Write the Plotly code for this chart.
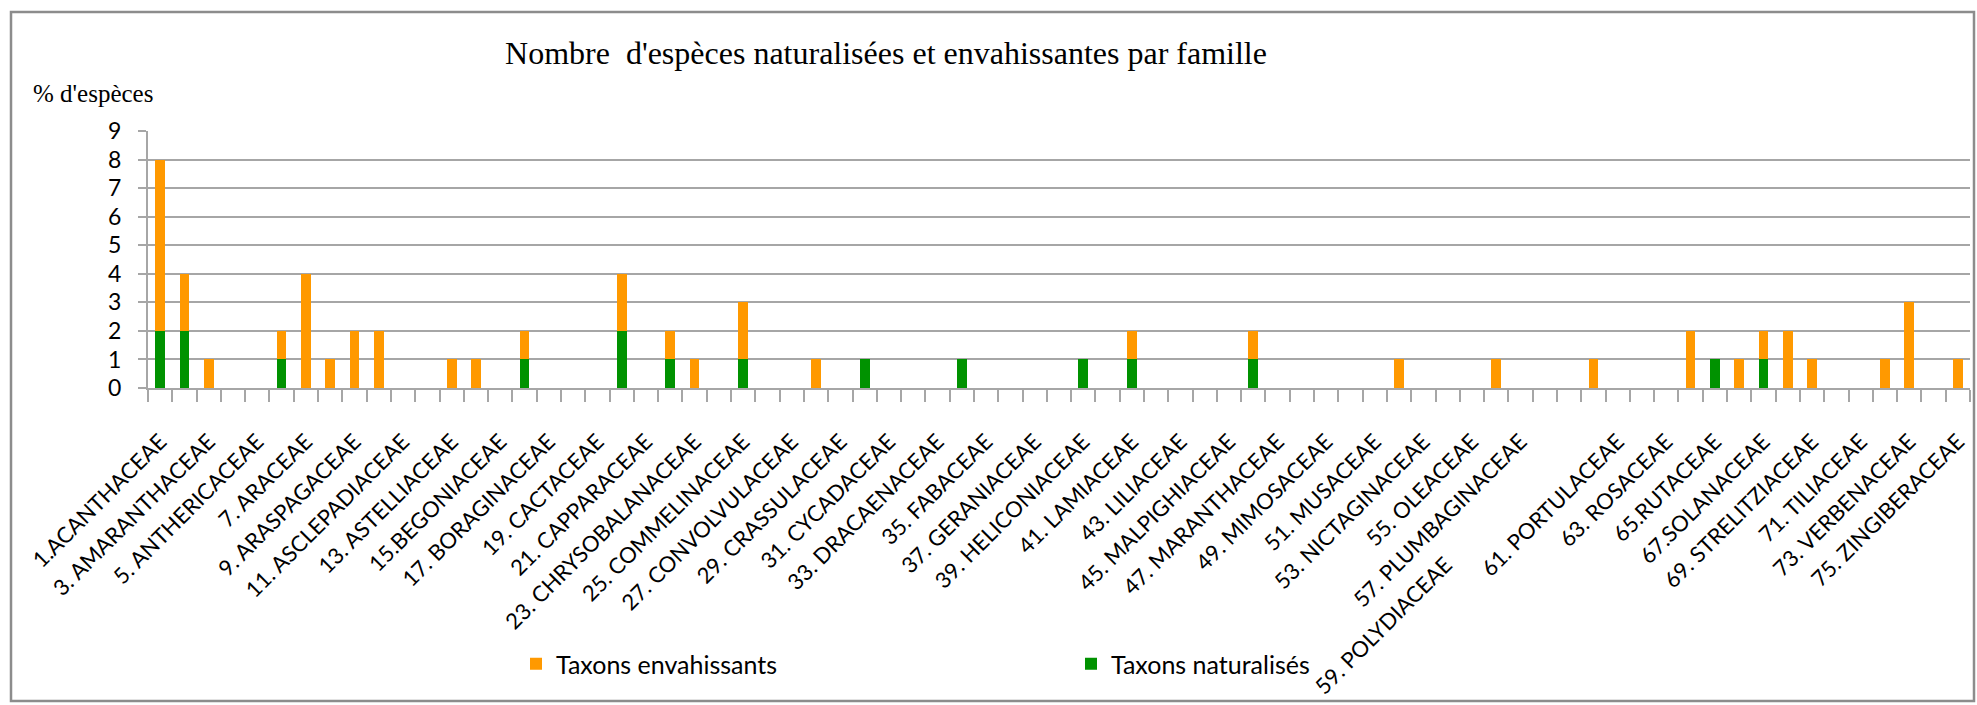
import plotly.graph_objects as go

# ---------------- data ----------------
family_numbers = list(range(1, 76))

labeled_families = [
    "1.ACANTHACEAE", "3. AMARANTHACEAE", "5. ANTHERICACEAE", "7. ARACEAE",
    "9. ARASPAGACEAE", "11. ASCLEPADIACEAE", "13. ASTELLIACEAE", "15.BEGONIACEAE",
    "17. BORAGINACEAE", "19. CACTACEAE", "21. CAPPARACEAE", "23. CHRYSOBALANACEAE",
    "25. COMMELINACEAE", "27. CONVOLVULACEAE", "29. CRASSULACEAE", "31. CYCADACEAE",
    "33. DRACAENACEAE", "35. FABACEAE", "37. GERANIACEAE", "39. HELICONIACEAE",
    "41. LAMIACEAE", "43. LILIACEAE", "45. MALPIGHIACEAE", "47. MARANTHACEAE",
    "49. MIMOSACEAE", "51. MUSACEAE", "53. NICTAGINACEAE", "55. OLEACEAE",
    "57. PLUMBAGINACEAE", "59. POLYDIACEAE", "61. PORTULACEAE", "63. ROSACEAE",
    "65.RUTACEAE", "67.SOLANACEAE", "69. STRELITZIACEAE", "71. TILIACEAE",
    "73. VERBENACEAE", "75. ZINGIBERACEAE",
]
labeled_numbers = [1, 3, 5, 7, 9, 11, 13, 15, 17, 19, 21, 23, 25, 27, 29, 31, 33, 35, 37,
                   39, 41, 43, 45, 47, 49, 51, 53, 55, 57, 59, 61, 63, 65, 67, 69, 71, 73, 75]

# Taxons naturalisés (green, bottom of stack), families 1..75
naturalises = [2, 2, 0, 0, 0, 1, 0, 0, 0, 0,
               0, 0, 0, 0, 0, 1, 0, 0, 0, 2,
               0, 1, 0, 0, 1, 0, 0, 0, 0, 1,
               0, 0, 0, 1, 0, 0, 0, 0, 1, 0,
               1, 0, 0, 0, 0, 1, 0, 0, 0, 0,
               0, 0, 0, 0, 0, 0, 0, 0, 0, 0,
               0, 0, 0, 0, 1, 0, 1, 0, 0, 0,
               0, 0, 0, 0, 0]

# Taxons envahissants (orange, top of stack), families 1..75
envahissants = [6, 2, 1, 0, 0, 1, 4, 1, 2, 2,
                0, 0, 1, 1, 0, 1, 0, 0, 0, 2,
                0, 1, 1, 0, 2, 0, 0, 1, 0, 0,
                0, 0, 0, 0, 0, 0, 0, 0, 0, 0,
                1, 0, 0, 0, 0, 1, 0, 0, 0, 0,
                0, 1, 0, 0, 0, 1, 0, 0, 0, 1,
                0, 0, 0, 2, 0, 1, 1, 2, 1, 0,
                0, 1, 3, 0, 1]

y_ticks = [0, 1, 2, 3, 4, 5, 6, 7, 8, 9]

# ---------------- layout geometry (pixels) ----------------
W, H = 1977, 705
PL, PR = 148, 1970          # plot area left / right
PT, PB = 131, 388           # plot area top (y=9) / bottom (y=0)

def px_x(p):
    return (p - PL) / (PR - PL)

def px_y(p):
    return (PB - p) / (PB - PT)

# the label of family 59 is shifted down along its direction in the original
tick_text = []
for n, t in zip(labeled_numbers, labeled_families):
    if n == 59:
        t = t + "\u00a0" * 31
    tick_text.append(t)

ORANGE = "#FF9900"
GREEN = "#009200"
GRID = "#A6A6A6"
FONT_SANS = "Lato, 'Open Sans', sans-serif"
FONT_SERIF = "'Liberation Serif', 'DejaVu Serif', serif"

fig = go.Figure()
fig.add_trace(go.Bar(
    x=family_numbers, y=naturalises, name="Taxons naturalisés",
    marker=dict(color=GREEN, line=dict(width=0)), legendrank=2,
))
fig.add_trace(go.Bar(
    x=family_numbers, y=envahissants, name="Taxons envahissants",
    marker=dict(color=ORANGE, line=dict(width=0)), legendrank=1,
))

fig.update_layout(
    width=W, height=H,
    margin=dict(l=PL, r=W - PR, t=PT, b=H - PB, autoexpand=False),
    paper_bgcolor="white", plot_bgcolor="white",
    barmode="stack", bargap=0.6,
    font=dict(family=FONT_SANS, color="black", size=22),
    title=dict(
        text="Nombre\u00a0 d'espèces naturalisées et envahissantes par famille",
        font=dict(family=FONT_SERIF, size=32, color="black"),
        xref="paper", x=px_x(886), xanchor="center",
        yref="container", y=1 - 53 / H, yanchor="middle",
    ),
    xaxis=dict(
        range=[0.5, 75.5], automargin=False,
        tickmode="array", tickvals=labeled_numbers, ticktext=tick_text,
        tickangle=-45, ticks="", ticklabelstandoff=30,
        tickfont=dict(family=FONT_SANS, size=22, color="black"),
        showgrid=False, zeroline=False,
        showline=True, linecolor=GRID, linewidth=2,
        minor=dict(tickmode="array", tickvals=[i + 0.5 for i in range(0, 76)],
                   ticks="outside", ticklen=12, tickcolor=GRID, tickwidth=1.5,
                   showgrid=False),
    ),
    yaxis=dict(
        range=[0, 9], automargin=False,
        tickmode="array", tickvals=y_ticks,
        ticks="outside", ticklen=8, tickcolor=GRID, tickwidth=1.5,
        ticklabelstandoff=12,
        tickfont=dict(family=FONT_SANS, size=23, color="black"),
        showgrid=True, gridcolor=GRID, gridwidth=1.5,
        zeroline=False, showline=True, linecolor=GRID, linewidth=2,
    ),
    showlegend=True,
    legend=dict(
        orientation="h", xref="paper", yref="paper",
        x=px_x(516), xanchor="left", y=px_y(664), yanchor="middle",
        font=dict(family=FONT_SANS, size=25, color="black"),
        entrywidth=510, entrywidthmode="pixels",
        itemwidth=30, bgcolor="rgba(0,0,0,0)", traceorder="normal",
    ),
    annotations=[dict(
        text="% d'espèces", xref="paper", yref="paper",
        x=px_x(31), y=px_y(93), xanchor="left", yanchor="middle",
        showarrow=False, font=dict(family=FONT_SERIF, size=25, color="black"),
    )],
    shapes=[dict(
        type="rect", xref="paper", yref="paper",
        x0=px_x(11), x1=px_x(1974), y0=px_y(701), y1=px_y(12),
        line=dict(color="#8C8C8C", width=2.5), fillcolor="rgba(0,0,0,0)",
        layer="below",
    )],
)

fig.write_html(
    "out.html",
    config={"displayModeBar": False},
    post_script="document.body.style.margin='0';document.body.style.overflow='hidden';",
)
